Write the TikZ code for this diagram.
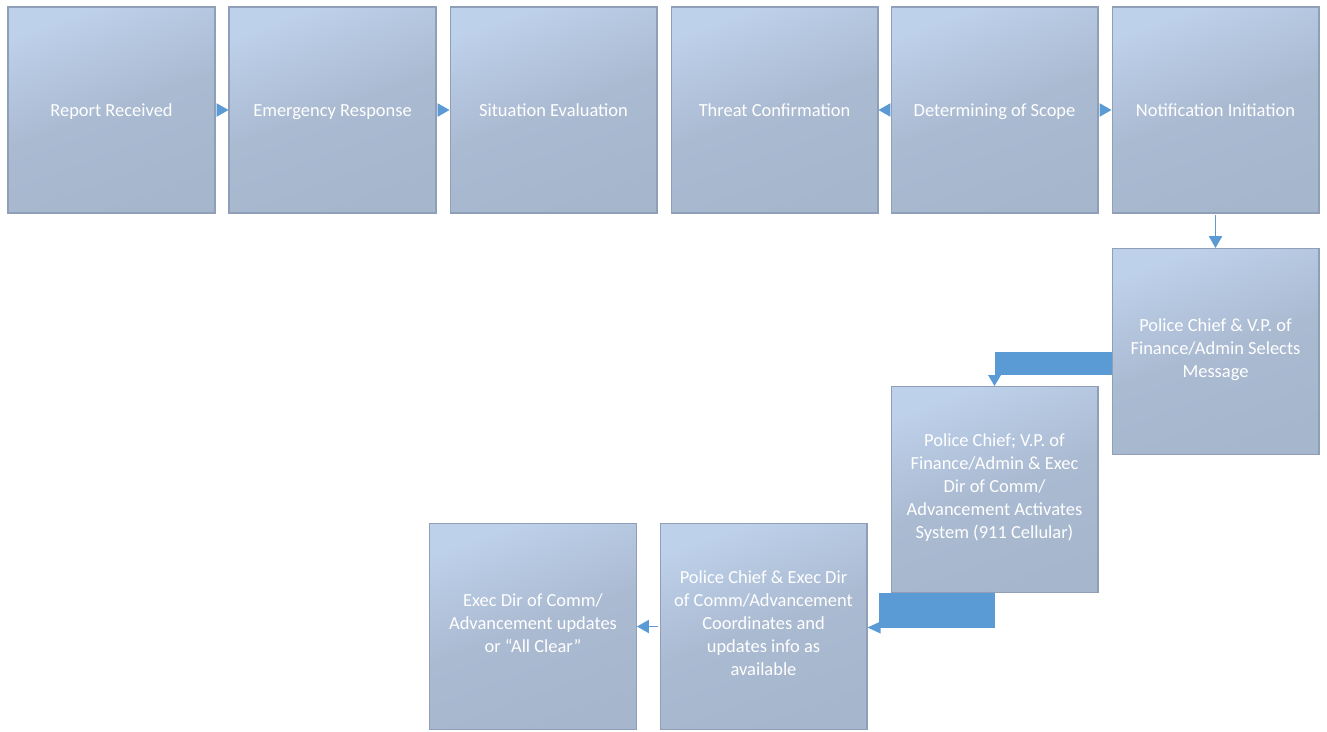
\documentclass[tikz,border=0pt]{standalone}
\usepackage{fontspec}
\setmainfont{Carlito}
\usetikzlibrary{arrows.meta,calc}
\definecolor{boxtop}{HTML}{BED1EA}
\definecolor{boxbot}{HTML}{A6B6CD}
\definecolor{boxline}{HTML}{8E9FB7}
\definecolor{flow}{HTML}{5B9BD5}
\tikzset{
	stage/.style={draw=boxline,line width=0.6pt,top color=boxtop,bottom color=boxbot,middle color=boxbot!85!boxtop,shading angle=20,
		minimum width=4.14cm,minimum height=4.12cm,inner sep=0pt,text=white,align=center,
		font=\fontsize{10.5pt}{13pt}\selectfont,
		execute at begin node={\rule{0pt}{\dimexpr\ht\strutbox+2.4pt}},execute at end node=\strut},
	link/.style={draw=flow,line width=0.5pt,-{Triangle[length=6.8pt,width=7.6pt]},shorten <=1pt},
	bar/.style={fill=flow}
}
\begin{document}
\begin{tikzpicture}[x=0.02cm,y=-0.02cm]
		\useasboundingbox (0,0) rectangle (1327,731);
		\node[stage] (rep) at (111.5,110) {Report Received};
		\node[stage] (emr) at (332.5,110) {Emergency Response};
		\node[stage] (sit) at (553.5,110) {Situation Evaluation};
		\node[stage] (thr) at (774.5,110) {Threat Confirmation};
		\node[stage] (sco) at (994.5,110) {Determining of Scope};
		\node[stage] (ntf) at (1215.5,110) {Notification Initiation};
		\node[stage] (msg) at (1215.5,351.5) {Police Chief \& V.P. of\\Finance/Admin Selects\\Message};
		\node[stage] (act) at (994.5,489.5) {Police Chief; V.P. of\\Finance/Admin \& Exec\\Dir of Comm/\\Advancement Activates\\System (911 Cellular)};
		\node[stage] (crd) at (763.5,626.5) {Police Chief \& Exec Dir\\of Comm/Advancement\\Coordinates and\\updates info as\\available};
		\node[stage] (clr) at (533,626.5) {Exec Dir of Comm/\\Advancement updates\\or “All Clear”};
		\draw[link] (rep) -- (emr);
		\draw[link] (emr) -- (sit);
		\draw[link] (sco) -- (thr);
		\draw[link] (sco) -- (ntf);
		\draw[link,line width=0.8pt] (ntf) -- (msg);
		\draw[link] (crd) -- (clr);
		% wide elbow connectors
		\fill[bar] (msg.west) rectangle ($(act.north)+(0,-11)$);
		\fill[bar] ($(act.north)+(-6.5,-11)$) -- ($(act.north)+(6.5,-11)$) -- (act.north) -- cycle;
		\fill[bar] (act.south) rectangle ($(crd.east)+(11,1.5)$);
		\fill[bar] ($(crd.east)+(13,-5)$) -- ($(crd.east)+(13,7)$) -- ($(crd.east)+(0,1)$) -- cycle;
\end{tikzpicture}
\end{document}
